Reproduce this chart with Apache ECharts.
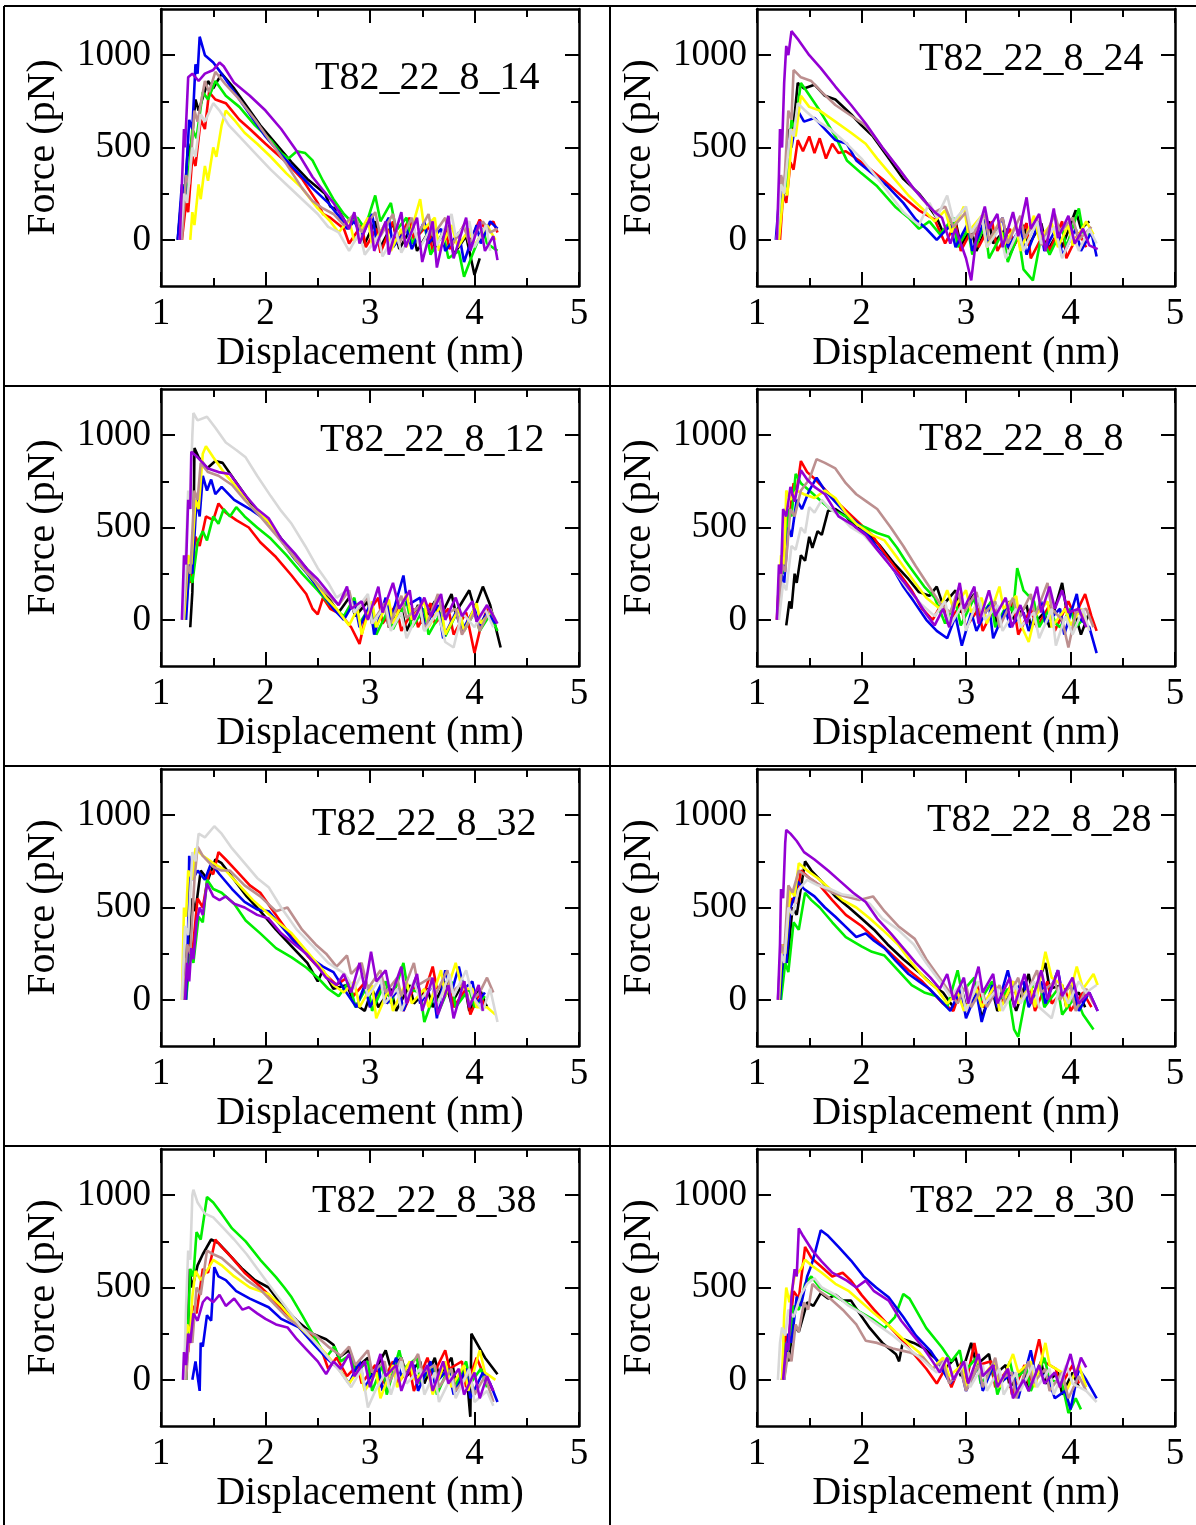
<!DOCTYPE html>
<html><head><meta charset="utf-8">
<script src="https://cdn.jsdelivr.net/npm/echarts@6/dist/echarts.min.js"></script>
<style>html,body{margin:0;padding:0;background:#fff}#c{width:1196px;height:1525px}</style>
</head><body><div id="c"></div>
<script>
// ---- categories / labels ----
const panelTitles = ['T82_22_8_14','T82_22_8_24','T82_22_8_12','T82_22_8_8','T82_22_8_32','T82_22_8_28','T82_22_8_38','T82_22_8_30'];
const seriesNames = ['black','red','green','blue','yellow','brown','grey','violet'];
const seriesColors = ['#000000','#ff0000','#00ee00','#0000ee','#ffff00','#bc8f8f','#d8d8d8','#9400d3'];
const xTickValues = [1,2,3,4,5];
const yTickValues = [0,500,1000];
const yMinorTickValues = [250,750];

// ---- data: flat [x,y,x,y,...] (displacement nm, force pN) ----
// T82_22_8_14
const p14_black=[1.16,0,1.20,250,1.22,180,1.26,520,1.28,450,1.33,760,1.36,700,1.45,860,1.50,820,1.58,900,1.70,820,1.80,740,1.95,620,2.10,520,2.25,420,2.40,330,2.57,250,2.62,180,2.70,160,2.80,60,2.85,120,2.95,-20,3.05,100,3.10,-40,3.22,90,3.28,-50,3.40,70,3.45,-60,3.58,60,3.62,-40,3.75,80,3.80,-80,3.92,20,4.00,-190,4.05,-100];
const p14_red=[1.20,0,1.24,200,1.26,150,1.30,450,1.33,400,1.38,650,1.42,600,1.46,800,1.52,760,1.62,740,1.75,650,1.85,600,2.0,520,2.08,480,2.2,420,2.35,330,2.5,200,2.55,140,2.62,120,2.75,60,2.80,-20,2.92,80,2.96,-40,3.06,60,3.10,-70,3.22,100,3.26,-20,3.38,120,3.42,0,3.55,80,3.60,-60,3.72,60,3.76,-50,3.90,80,3.95,-20,4.05,110,4.10,60,4.18,100,4.22,40];
const p14_green=[1.18,0,1.22,300,1.25,250,1.30,600,1.34,550,1.40,800,1.45,760,1.52,860,1.62,780,1.75,720,1.90,620,2.05,540,2.15,470,2.22,440,2.30,480,2.38,470,2.45,430,2.55,320,2.65,220,2.75,140,2.82,100,2.88,120,2.95,60,3.05,240,3.10,100,3.20,200,3.25,50,3.35,120,3.40,-20,3.52,80,3.58,-80,3.70,40,3.75,-100,3.85,-60,3.90,-200,3.98,-80,4.08,60,4.12,-20,4.22,-60];
const p14_blue=[1.16,0,1.20,300,1.23,240,1.27,650,1.30,600,1.33,950,1.35,900,1.37,1100,1.42,1000,1.50,960,1.58,900,1.70,800,1.85,680,2.0,560,2.15,460,2.30,370,2.45,280,2.60,200,2.70,130,2.78,60,2.85,100,2.92,20,3.02,140,3.06,0,3.18,120,3.22,-40,3.35,60,3.40,-50,3.52,100,3.56,-20,3.68,60,3.72,-60,3.85,40,3.90,-120,4.02,80,4.06,-20,4.15,100,4.22,60];
const p14_yellow=[1.28,0,1.30,150,1.32,80,1.36,300,1.38,220,1.42,400,1.45,320,1.50,500,1.53,450,1.58,620,1.62,700,1.70,650,1.80,580,1.92,520,2.05,450,2.20,360,2.35,280,2.50,170,2.62,100,2.70,40,2.80,110,2.85,-10,2.98,120,3.02,-30,3.15,90,3.20,-60,3.30,60,3.35,-40,3.48,220,3.52,60,3.62,120,3.66,-60,3.78,80,3.84,-40,3.95,60,4.00,-30,4.12,80,4.20,0];
const p14_brown=[1.20,0,1.24,350,1.27,300,1.32,700,1.35,640,1.42,860,1.46,800,1.52,910,1.62,840,1.75,760,1.90,650,2.05,530,2.20,410,2.35,280,2.45,210,2.55,170,2.65,140,2.75,80,2.85,140,2.92,40,3.05,150,3.10,20,3.22,140,3.28,-20,3.40,120,3.44,10,3.56,140,3.60,20,3.72,120,3.78,-30,3.90,80,3.95,-20,4.08,100,4.15,40,4.22,60];
const p14_grey=[1.18,0,1.22,250,1.25,200,1.30,500,1.33,450,1.38,680,1.42,640,1.50,740,1.56,700,1.65,620,1.75,560,1.90,470,2.05,380,2.20,300,2.35,220,2.50,140,2.60,70,2.70,40,2.80,-60,2.90,40,2.95,-80,3.08,20,3.12,-90,3.25,40,3.30,-70,3.42,60,3.48,-40,3.60,80,3.64,-30,3.78,140,3.82,20,3.95,100,4.00,-40,4.11,80,4.15,-60];
const p14_violet=[1.18,0,1.20,300,1.22,600,1.23,500,1.26,880,1.30,900,1.36,860,1.42,900,1.50,920,1.56,960,1.60,940,1.70,850,1.85,780,2.0,700,2.15,600,2.30,480,2.45,340,2.55,270,2.65,200,2.75,110,2.80,60,2.85,150,2.90,-20,3.00,120,3.04,-60,3.15,100,3.18,-80,3.30,150,3.34,-40,3.45,120,3.50,-120,3.60,100,3.64,-150,3.75,130,3.80,-100,3.92,120,3.96,-60,4.05,100,4.10,-60,4.18,20,4.22,-110];
// T82_22_8_24
const p24_black=[1.20,0,1.24,300,1.27,250,1.31,600,1.34,560,1.39,850,1.45,820,1.55,840,1.65,780,1.75,760,1.90,680,2.0,620,2.11,560,2.25,450,2.40,330,2.55,250,2.62,200,2.72,120,2.78,40,2.90,100,2.95,-30,3.05,60,3.10,-60,3.22,100,3.26,-20,3.38,60,3.42,-80,3.55,80,3.60,-30,3.72,90,3.78,-60,3.88,40,3.92,-40,4.05,160,4.10,60,4.18,100];
const p24_red=[1.22,0,1.25,250,1.28,200,1.32,420,1.35,380,1.39,540,1.44,480,1.50,560,1.55,470,1.60,550,1.66,440,1.72,520,1.78,470,1.85,480,2.0,420,2.2,330,2.4,230,2.55,160,2.70,110,2.80,-20,2.90,90,2.95,-60,3.08,80,3.12,-40,3.25,100,3.30,-60,3.42,60,3.46,-30,3.58,90,3.62,-100,3.75,40,3.80,-60,3.92,100,3.96,-100,4.08,40,4.15,-40];
const p24_green=[1.20,0,1.25,320,1.28,260,1.33,650,1.36,600,1.42,850,1.48,800,1.60,700,1.75,560,1.86,430,2.0,360,2.15,290,2.33,175,2.45,120,2.55,60,2.65,100,2.75,30,2.88,120,2.92,-40,3.02,60,3.06,-80,3.18,80,3.22,-100,3.35,40,3.40,-120,3.50,30,3.55,-160,3.64,-220,3.72,20,3.80,-80,3.92,60,3.96,-40,4.08,170,4.12,40,4.22,20];
const p24_blue=[1.18,0,1.22,280,1.25,220,1.30,550,1.33,500,1.39,700,1.45,640,1.55,660,1.65,600,1.75,540,1.86,520,1.95,430,2.10,360,2.25,290,2.40,200,2.52,110,2.62,60,2.72,0,2.85,80,2.90,-40,3.02,90,3.06,-60,3.18,110,3.22,-20,3.35,120,3.40,-40,3.52,60,3.58,-80,3.70,100,3.75,-60,3.88,80,3.92,-90,4.05,60,4.10,-60,4.20,40,4.25,-90];
const p24_yellow=[1.21,0,1.26,300,1.29,240,1.34,600,1.37,560,1.42,780,1.50,720,1.60,700,1.75,640,1.90,580,2.04,520,2.15,440,2.30,340,2.45,240,2.58,170,2.70,100,2.80,160,2.86,40,2.98,180,3.02,40,3.15,130,3.20,-40,3.32,100,3.36,-30,3.48,80,3.52,-60,3.65,130,3.70,0,3.82,90,3.88,-40,3.98,80,4.02,-30,4.15,100,4.22,30];
const p24_brown=[1.19,0,1.23,350,1.26,290,1.30,700,1.33,650,1.35,920,1.42,880,1.52,860,1.62,800,1.75,730,1.88,680,2.04,620,2.20,500,2.35,390,2.48,290,2.60,210,2.70,150,2.80,180,2.88,70,3.00,150,3.05,10,3.18,140,3.22,0,3.35,120,3.40,-20,3.52,130,3.56,10,3.68,110,3.72,-30,3.85,140,3.90,40,4.02,120,4.08,0,4.20,70];
const p24_grey=[1.19,0,1.23,300,1.26,250,1.32,600,1.35,560,1.39,740,1.46,700,1.56,650,1.70,600,1.86,520,2.0,440,2.20,300,2.40,150,2.55,80,2.65,200,2.72,120,2.82,240,2.88,100,3.00,180,3.05,40,3.15,130,3.20,-40,3.32,60,3.38,-100,3.50,50,3.55,-60,3.68,100,3.72,-20,3.85,70,3.92,-100,4.02,30,4.08,-60,4.18,60,4.25,-20];
const p24_violet=[1.19,0,1.21,350,1.22,600,1.24,500,1.26,850,1.28,1050,1.30,1000,1.33,1130,1.40,1080,1.50,1000,1.61,930,1.75,830,1.90,730,2.04,630,2.20,500,2.35,390,2.51,270,2.62,200,2.70,150,2.77,120,2.85,-20,2.90,60,3.00,-100,3.05,-220,3.10,20,3.18,180,3.22,60,3.30,140,3.35,-40,3.45,150,3.50,20,3.58,230,3.62,60,3.70,140,3.76,-60,3.84,170,3.88,10,3.98,130,4.04,-20,4.12,60,4.18,-30,4.26,-50];
// T82_22_8_12
const p12_black=[1.28,-40,1.30,150,1.31,400,1.32,930,1.36,880,1.44,820,1.52,860,1.59,850,1.70,760,1.80,680,1.92,580,2.03,530,2.15,440,2.28,350,2.39,280,2.50,180,2.60,120,2.70,40,2.80,120,2.86,20,2.98,100,3.02,-20,3.14,80,3.18,-40,3.30,60,3.35,-60,3.46,80,3.50,-20,3.62,100,3.66,0,3.78,140,3.82,40,3.95,160,4.00,60,4.08,180,4.15,80,4.25,-150];
const p12_red=[1.22,0,1.25,250,1.28,200,1.33,450,1.37,400,1.43,560,1.50,540,1.55,630,1.62,580,1.72,540,1.84,500,1.95,420,2.10,340,2.25,240,2.39,140,2.45,60,2.50,30,2.55,120,2.62,60,2.72,30,2.82,-40,2.90,-130,2.96,20,3.08,120,3.12,-20,3.25,80,3.30,-60,3.42,60,3.46,-40,3.58,90,3.62,-20,3.75,60,3.80,-80,3.92,40,4.00,-180,4.05,-60,4.12,60,4.18,-20];
const p12_green=[1.23,0,1.27,250,1.30,200,1.35,420,1.40,480,1.44,430,1.50,560,1.55,520,1.60,600,1.66,560,1.72,610,1.80,560,1.92,500,2.05,440,2.20,350,2.35,250,2.50,160,2.62,80,2.75,20,2.85,120,2.90,-20,3.02,90,3.06,-80,3.18,60,3.22,-50,3.35,100,3.40,-40,3.52,60,3.56,-80,3.68,40,3.72,-90,3.85,60,3.90,-60,4.00,40,4.05,-60,4.15,30,4.22,-60];
const p12_blue=[1.24,0,1.27,300,1.30,250,1.34,650,1.37,560,1.40,780,1.44,700,1.48,760,1.52,680,1.58,720,1.70,650,1.85,600,2.03,530,2.15,430,2.28,330,2.40,250,2.52,160,2.65,60,2.75,0,2.85,100,2.90,-40,3.00,80,3.04,-80,3.15,120,3.20,0,3.32,240,3.36,80,3.48,120,3.52,-40,3.65,80,3.70,-100,3.82,40,3.88,-60,4.00,60,4.05,-30,4.12,40,4.20,-20];
const p12_yellow=[1.22,0,1.26,350,1.29,300,1.33,650,1.36,600,1.40,900,1.43,940,1.50,880,1.60,800,1.72,720,1.85,620,2.03,530,2.15,430,2.30,320,2.47,210,2.58,120,2.68,60,2.80,-30,2.88,60,2.92,-80,3.02,100,3.06,-40,3.18,110,3.22,-20,3.35,140,3.40,0,3.52,100,3.56,-40,3.68,80,3.72,-80,3.85,60,3.90,-60,4.02,90,4.06,-20,4.15,40];
const p12_brown=[1.21,0,1.25,300,1.28,250,1.32,700,1.35,650,1.38,850,1.45,800,1.55,780,1.68,730,1.80,650,1.95,560,2.10,460,2.25,360,2.40,260,2.55,160,2.70,80,2.80,160,2.85,40,2.98,120,3.02,-20,3.14,90,3.18,-40,3.30,130,3.35,10,3.48,80,3.52,-60,3.65,140,3.70,20,3.82,60,3.88,-80,4.00,40,4.05,-60,4.15,60,4.20,0];
const p12_grey=[1.21,0,1.24,400,1.26,700,1.28,650,1.30,1000,1.31,1120,1.35,1080,1.44,1100,1.52,1040,1.62,960,1.72,920,1.81,880,1.92,780,2.05,670,2.15,590,2.25,520,2.38,400,2.50,280,2.60,200,2.68,120,2.78,160,2.85,40,2.98,140,3.02,-20,3.15,80,3.20,-60,3.30,40,3.35,-100,3.48,60,3.52,-60,3.65,40,3.72,-120,3.80,-150,3.88,40,4.00,-40,4.10,60,4.18,-40];
const p12_violet=[1.20,0,1.22,350,1.24,300,1.26,650,1.28,600,1.29,910,1.35,880,1.45,820,1.55,800,1.66,790,1.80,680,1.92,600,2.03,550,2.15,440,2.28,360,2.39,280,2.50,220,2.60,150,2.70,80,2.78,180,2.82,60,2.92,100,2.98,0,3.08,180,3.12,40,3.22,200,3.28,60,3.38,160,3.42,0,3.52,120,3.58,20,3.68,140,3.72,0,3.82,120,3.88,20,3.98,100,4.02,-10,4.12,80,4.18,20,4.22,-20];
// T82_22_8_8
const p8_black=[1.28,-30,1.31,100,1.33,60,1.36,250,1.38,200,1.42,350,1.46,320,1.50,450,1.53,390,1.58,480,1.62,460,1.68,590,1.75,600,1.85,560,1.95,500,2.04,480,2.18,400,2.32,300,2.45,220,2.55,150,2.65,130,2.72,180,2.78,80,2.90,160,2.95,40,3.08,140,3.12,20,3.25,90,3.30,-30,3.42,100,3.46,0,3.58,80,3.62,-40,3.75,40,3.80,-40,3.92,200,3.96,60,4.05,20,4.10,-80,4.18,40];
const p8_red=[1.19,0,1.22,300,1.25,250,1.28,600,1.31,550,1.35,740,1.38,700,1.42,860,1.48,800,1.56,760,1.66,700,1.80,620,1.95,540,2.10,460,2.22,360,2.35,260,2.48,160,2.58,60,2.68,0,2.78,100,2.82,-20,2.95,80,3.00,-40,3.12,60,3.16,-60,3.28,80,3.32,-20,3.45,100,3.50,-80,3.62,60,3.68,-40,3.80,80,3.85,-60,3.98,100,4.04,20,4.14,140,4.20,20,4.25,-60];
const p8_green=[1.20,0,1.23,300,1.26,250,1.30,600,1.33,560,1.37,790,1.42,740,1.50,700,1.58,660,1.70,600,1.85,560,1.95,520,2.04,500,2.15,470,2.26,450,2.34,390,2.42,320,2.51,250,2.60,180,2.70,120,2.80,-20,2.90,100,2.95,-30,3.08,120,3.12,0,3.24,100,3.28,-40,3.40,90,3.45,40,3.49,280,3.55,160,3.65,100,3.70,-40,3.80,60,3.86,-20,3.90,-40,4.00,60,4.05,-40,4.15,20];
const p8_blue=[1.20,0,1.23,250,1.26,200,1.30,500,1.33,450,1.38,650,1.43,600,1.50,700,1.57,770,1.65,700,1.78,620,1.90,550,1.97,520,2.10,430,2.22,340,2.32,260,2.40,180,2.50,100,2.62,0,2.72,-60,2.82,-100,2.90,20,2.96,-140,3.05,40,3.10,-60,3.22,80,3.26,-100,3.38,60,3.42,-40,3.55,40,3.60,-60,3.72,100,3.76,-20,3.90,60,3.94,-80,4.06,140,4.10,0,4.18,-40,4.25,-180];
const p8_yellow=[1.20,0,1.23,350,1.26,300,1.28,700,1.32,650,1.38,700,1.45,680,1.55,660,1.65,700,1.75,660,1.85,580,1.95,520,2.10,460,2.22,430,2.35,330,2.50,210,2.62,120,2.75,60,2.82,160,2.88,60,3.00,160,3.05,40,3.15,120,3.20,-20,3.32,180,3.36,60,3.48,130,3.52,-20,3.60,-120,3.66,20,3.78,100,3.82,-40,3.95,60,4.00,-30,4.10,60,4.16,-40];
const p8_brown=[1.20,0,1.24,300,1.27,260,1.32,600,1.36,560,1.42,700,1.50,760,1.57,870,1.65,850,1.75,820,1.85,740,1.95,680,2.05,640,2.15,600,2.28,500,2.40,400,2.52,290,2.66,170,2.75,90,2.85,40,2.92,160,2.98,40,3.10,150,3.15,20,3.28,100,3.32,-40,3.45,120,3.50,0,3.62,140,3.66,20,3.78,200,3.82,60,3.92,0,3.98,-150,4.05,40,4.15,60,4.22,-40];
const p8_grey=[1.21,0,1.25,200,1.28,160,1.33,400,1.37,380,1.42,500,1.46,470,1.50,610,1.55,580,1.62,650,1.70,600,1.80,560,1.90,500,2.02,460,2.15,380,2.30,280,2.45,160,2.58,80,2.70,20,2.80,100,2.85,-30,2.96,80,3.00,-60,3.12,120,3.18,0,3.30,80,3.35,-60,3.48,60,3.52,-40,3.65,40,3.70,-100,3.82,60,3.86,-140,3.95,20,4.02,-80,4.12,60,4.18,-60];
const p8_violet=[1.19,0,1.21,300,1.23,250,1.25,600,1.28,560,1.32,720,1.36,640,1.42,810,1.48,760,1.55,720,1.65,680,1.78,560,1.90,520,2.04,460,2.15,380,2.28,290,2.40,210,2.52,120,2.62,30,2.70,-30,2.78,60,2.84,-40,2.94,200,2.98,60,3.08,180,3.12,-20,3.22,160,3.28,20,3.38,120,3.44,-40,3.52,80,3.58,-20,3.68,180,3.72,40,3.80,180,3.85,60,3.92,160,3.98,40,4.08,60,4.15,-40];
// T82_22_8_32
const p32_black=[1.22,0,1.25,300,1.27,250,1.30,550,1.33,480,1.38,700,1.45,650,1.52,760,1.58,740,1.70,650,1.82,560,1.95,480,2.10,380,2.25,290,2.40,200,2.50,100,2.55,160,2.65,60,2.78,80,2.85,-20,2.95,-60,3.02,60,3.08,-40,3.20,60,3.25,-60,3.38,80,3.42,-20,3.55,60,3.60,-40,3.72,100,3.78,-20,3.90,100,3.95,-60,4.05,60,4.12,-40];
const p32_red=[1.23,0,1.27,300,1.30,250,1.35,550,1.40,500,1.46,700,1.50,680,1.55,800,1.62,760,1.72,700,1.85,620,1.95,580,2.10,460,2.25,340,2.40,240,2.55,150,2.68,80,2.78,120,2.84,20,2.96,100,3.00,-40,3.12,80,3.16,-20,3.28,60,3.32,-60,3.45,100,3.50,0,3.60,180,3.64,60,3.76,100,3.80,-40,3.92,60,3.96,-80,4.05,40,4.10,-40];
const p32_green=[1.24,0,1.28,250,1.31,200,1.36,450,1.40,420,1.44,650,1.50,600,1.58,580,1.70,520,1.81,430,1.95,360,2.10,280,2.25,230,2.39,175,2.50,120,2.60,60,2.70,20,2.80,100,2.86,-40,2.98,80,3.02,-60,3.15,100,3.20,-20,3.32,200,3.36,60,3.48,40,3.52,-120,3.62,40,3.66,-60,3.78,100,3.82,-40,3.95,60,4.00,-40,4.10,20];
const p32_blue=[1.24,0,1.26,400,1.27,780,1.30,650,1.35,700,1.42,650,1.48,740,1.56,680,1.68,600,1.80,530,1.92,490,2.03,480,2.15,400,2.30,300,2.45,220,2.55,180,2.65,150,2.75,60,2.87,-40,2.95,80,3.00,-40,3.12,100,3.16,-20,3.28,60,3.32,-60,3.44,120,3.48,-20,3.60,80,3.64,-100,3.72,160,3.78,40,3.85,180,3.90,60,3.98,100,4.02,-20,4.10,40];
const p32_yellow=[1.20,0,1.21,250,1.22,500,1.24,450,1.26,700,1.30,650,1.33,820,1.40,780,1.50,740,1.62,700,1.75,620,1.88,540,2.00,480,2.12,420,2.25,360,2.40,260,2.55,160,2.65,80,2.75,40,2.85,100,2.90,-40,3.02,80,3.06,-100,3.18,60,3.22,-60,3.35,100,3.40,-20,3.52,60,3.56,-40,3.68,160,3.72,20,3.82,200,3.88,60,3.98,60,4.02,-40,4.12,-40,4.20,-80];
const p32_brown=[1.22,0,1.25,300,1.28,250,1.32,650,1.35,830,1.40,780,1.50,720,1.58,700,1.66,700,1.80,620,1.95,560,2.10,480,2.21,500,2.35,380,2.48,300,2.58,250,2.68,180,2.78,240,2.82,140,2.92,200,2.98,60,3.10,160,3.15,40,3.26,120,3.30,20,3.42,200,3.46,80,3.58,120,3.62,20,3.74,160,3.78,40,3.90,100,3.95,-20,4.05,40,4.12,120,4.18,40];
const p32_grey=[1.20,0,1.23,400,1.26,350,1.30,800,1.33,750,1.36,900,1.42,880,1.51,940,1.58,900,1.68,820,1.80,740,1.92,660,2.03,610,2.15,500,2.30,380,2.47,280,2.60,200,2.76,140,2.85,60,2.92,140,2.98,20,3.10,120,3.14,-20,3.26,60,3.30,-60,3.42,100,3.48,0,3.60,80,3.64,-40,3.76,140,3.80,20,3.92,160,3.98,20,4.08,-60,4.15,60,4.22,-120];
const p32_violet=[1.23,0,1.25,200,1.27,100,1.29,280,1.31,220,1.34,420,1.37,500,1.40,460,1.44,630,1.50,560,1.56,540,1.62,560,1.70,520,1.80,500,1.92,460,2.03,440,2.15,360,2.28,300,2.39,250,2.50,180,2.58,120,2.68,80,2.75,140,2.82,40,2.90,200,2.95,60,3.01,260,3.06,100,3.15,160,3.20,20,3.30,180,3.35,-20,3.45,140,3.50,-60,3.60,120,3.65,-80,3.75,80,3.80,-100,3.90,100,3.95,-40,4.04,80,4.08,-60];
// T82_22_8_28
const p28_black=[1.22,0,1.26,250,1.29,200,1.34,500,1.38,460,1.46,750,1.52,700,1.62,640,1.75,560,1.88,500,2.0,440,2.12,380,2.25,300,2.40,220,2.55,150,2.68,80,2.78,40,2.88,-40,2.95,80,3.00,-40,3.10,60,3.15,-100,3.25,60,3.30,-60,3.42,40,3.48,-60,3.60,140,3.64,20,3.76,200,3.80,60,3.92,80,3.96,-40,4.08,40,4.14,-40];
const p28_red=[1.22,0,1.25,300,1.28,260,1.33,550,1.37,520,1.42,700,1.50,660,1.60,620,1.72,540,1.85,460,2.0,400,2.15,320,2.30,240,2.45,160,2.58,100,2.68,40,2.78,-20,2.88,-60,2.95,60,3.00,-60,3.12,80,3.16,-40,3.28,60,3.32,-40,3.45,100,3.50,-20,3.62,60,3.66,-60,3.78,100,3.82,-20,3.95,60,4.00,-60,4.12,40,4.20,-40];
const p28_green=[1.23,0,1.27,200,1.30,150,1.35,420,1.40,380,1.46,580,1.52,540,1.60,500,1.72,420,1.85,340,2.0,290,2.10,260,2.22,240,2.35,160,2.48,80,2.60,40,2.72,20,2.82,-40,2.92,160,2.96,40,3.08,120,3.12,-20,3.25,100,3.30,-20,3.40,60,3.46,-160,3.50,-200,3.58,40,3.70,100,3.75,-40,3.88,60,3.92,-80,4.05,20,4.12,-80,4.22,-160];
const p28_blue=[1.22,0,1.25,250,1.28,200,1.32,500,1.36,560,1.39,640,1.45,600,1.55,560,1.65,500,1.75,450,1.86,390,1.95,340,2.04,360,2.12,320,2.22,280,2.33,210,2.45,140,2.55,100,2.65,60,2.75,0,2.85,-60,2.95,60,3.00,-100,3.10,40,3.15,-120,3.25,80,3.30,-40,3.40,160,3.45,40,3.55,100,3.60,-40,3.72,100,3.76,-20,3.88,160,3.92,40,4.02,80,4.08,-60,4.18,40,4.26,-60];
const p28_yellow=[1.21,0,1.24,300,1.27,250,1.32,600,1.36,560,1.40,740,1.48,700,1.58,660,1.70,600,1.82,540,1.95,500,2.08,440,2.20,380,2.35,300,2.48,200,2.60,120,2.72,60,2.82,-20,2.92,40,2.98,-60,3.10,60,3.15,-40,3.28,80,3.32,-60,3.45,100,3.50,-20,3.62,80,3.66,-40,3.76,260,3.82,120,3.92,80,3.96,-40,4.06,180,4.12,60,4.22,140,4.26,80];
const p28_brown=[1.20,0,1.23,300,1.26,250,1.30,620,1.34,580,1.40,700,1.50,660,1.60,620,1.72,580,1.85,560,1.98,540,2.11,560,2.22,480,2.35,400,2.51,330,2.62,220,2.72,140,2.82,60,2.92,-20,3.00,80,3.05,-40,3.15,60,3.20,-40,3.32,80,3.38,-20,3.50,120,3.55,0,3.68,160,3.72,40,3.85,100,3.90,0,4.00,80,4.05,-60,4.15,60,4.22,-20];
const p28_grey=[1.20,0,1.23,250,1.26,200,1.30,500,1.34,460,1.40,600,1.48,650,1.58,620,1.70,600,1.82,570,1.95,560,2.08,520,2.20,440,2.35,380,2.50,300,2.62,200,2.75,100,2.85,20,2.95,80,3.00,-60,3.12,100,3.18,-20,3.30,60,3.35,-60,3.48,80,3.52,-20,3.65,100,3.70,-40,3.82,-100,3.90,80,3.98,-20,4.08,100,4.15,40,4.25,80];
const p28_violet=[1.20,0,1.22,300,1.23,600,1.25,550,1.27,850,1.28,920,1.32,900,1.38,860,1.45,800,1.55,760,1.68,700,1.80,640,1.92,580,2.04,530,2.15,440,2.28,360,2.40,280,2.52,200,2.66,120,2.75,60,2.82,140,2.88,0,2.98,120,3.02,-20,3.12,180,3.16,40,3.26,140,3.30,-20,3.42,120,3.46,-40,3.56,140,3.62,-20,3.72,160,3.78,0,3.88,160,3.92,20,4.02,120,4.08,-20,4.18,40,4.26,-60];
// T82_22_8_38
const p38_black=[1.24,0,1.26,300,1.27,600,1.30,500,1.35,620,1.40,680,1.48,760,1.55,740,1.65,680,1.78,600,1.90,540,2.03,500,2.15,410,2.30,320,2.45,250,2.58,220,2.65,190,2.70,120,2.80,160,2.86,60,2.98,120,3.02,20,3.15,160,3.20,60,3.30,120,3.35,20,3.48,100,3.52,-20,3.62,120,3.66,20,3.78,120,3.82,-20,3.92,60,3.96,-200,3.97,250,4.10,120,4.22,30];
const p38_red=[1.22,0,1.24,200,1.26,150,1.30,400,1.34,360,1.40,600,1.45,580,1.52,760,1.58,720,1.68,660,1.80,580,1.92,520,2.05,450,2.20,360,2.35,280,2.48,220,2.55,140,2.60,60,2.68,120,2.78,20,2.88,80,2.92,-20,3.05,80,3.10,-40,3.22,100,3.26,-20,3.38,60,3.42,-60,3.55,120,3.60,20,3.72,160,3.76,60,3.88,100,3.92,-40,4.02,120,4.08,40,4.18,-60];
const p38_green=[1.24,0,1.26,300,1.28,600,1.31,560,1.34,800,1.38,760,1.44,990,1.50,960,1.58,900,1.68,820,1.81,750,1.95,650,2.10,556,2.18,500,2.25,447,2.35,350,2.45,250,2.58,121,2.66,180,2.72,100,2.82,140,2.86,40,2.98,100,3.02,-60,3.12,80,3.16,-80,3.28,160,3.32,60,3.45,120,3.48,-20,3.60,80,3.64,-80,3.75,60,3.80,-60,3.92,100,3.96,-20,4.06,60,4.12,-40];
const p38_blue=[1.30,0,1.33,100,1.37,-60,1.38,200,1.40,180,1.44,350,1.48,320,1.51,610,1.55,560,1.62,540,1.72,480,1.85,440,2.03,393,2.15,330,2.32,284,2.45,200,2.58,120,2.70,60,2.80,-20,2.90,100,2.95,-40,3.08,80,3.12,-60,3.25,120,3.30,20,3.42,80,3.46,-60,3.58,100,3.62,-20,3.75,60,3.80,-80,3.92,60,3.96,-100,4.08,40,4.15,-20,4.22,-120];
const p38_yellow=[1.22,0,1.25,300,1.28,250,1.30,450,1.33,590,1.38,540,1.45,600,1.50,650,1.58,620,1.70,560,1.85,500,2.03,465,2.15,400,2.30,300,2.45,220,2.58,140,2.70,60,2.80,-20,2.90,60,2.95,-60,3.06,40,3.10,-100,3.22,80,3.26,-40,3.38,100,3.42,0,3.55,60,3.60,-80,3.72,100,3.78,-40,3.90,80,3.94,-60,4.05,160,4.10,40,4.20,0];
const p38_brown=[1.24,0,1.27,250,1.30,200,1.34,500,1.38,460,1.44,700,1.50,680,1.58,660,1.70,600,1.82,540,1.95,490,2.10,400,2.22,330,2.35,280,2.48,240,2.60,180,2.72,130,2.80,180,2.86,80,2.98,160,3.02,40,3.14,100,3.18,-20,3.30,120,3.34,20,3.46,140,3.50,40,3.62,80,3.66,-40,3.78,60,3.82,-60,3.95,40,4.00,-80,4.10,20,4.18,-120];
const p38_grey=[1.22,0,1.24,400,1.26,700,1.28,650,1.30,1000,1.31,1030,1.35,960,1.42,900,1.50,880,1.60,820,1.70,760,1.82,680,1.95,580,2.08,480,2.20,390,2.35,280,2.48,200,2.60,120,2.72,40,2.82,-40,2.92,60,2.98,-150,3.05,-60,3.15,40,3.20,-80,3.30,100,3.35,-20,3.48,60,3.52,-80,3.62,40,3.66,-120,3.78,20,3.82,-100,3.95,60,4.00,-120,4.12,-60,4.18,-140];
const p38_violet=[1.21,0,1.22,150,1.24,80,1.26,250,1.28,200,1.31,360,1.35,320,1.40,420,1.44,447,1.50,420,1.56,460,1.62,400,1.70,440,1.78,380,1.84,393,1.92,360,2.00,330,2.10,300,2.21,284,2.30,220,2.40,160,2.50,100,2.58,31,2.65,100,2.72,60,2.80,140,2.85,20,2.95,100,3.00,-40,3.10,140,3.15,20,3.25,80,3.30,-60,3.40,100,3.45,-20,3.55,80,3.60,-60,3.70,100,3.75,-20,3.85,60,3.90,-80,4.00,40,4.05,-100,4.12,20,4.18,-60];
// T82_22_8_30
const p30_black=[1.24,0,1.28,150,1.30,100,1.35,300,1.40,260,1.48,420,1.54,400,1.61,470,1.68,440,1.75,460,1.82,430,1.90,429,1.98,360,2.08,280,2.20,200,2.33,139,2.36,100,2.40,220,2.50,200,2.60,170,2.70,120,2.80,60,2.90,120,2.95,20,3.05,200,3.10,80,3.22,140,3.26,20,3.38,80,3.42,-40,3.55,60,3.60,-60,3.72,100,3.76,-20,3.88,40,3.92,-80,4.02,40,4.08,-40];
const p30_red=[1.24,0,1.27,250,1.30,200,1.35,480,1.40,440,1.46,720,1.52,660,1.60,620,1.72,560,1.82,580,1.90,537,2.0,460,2.12,380,2.25,300,2.38,220,2.50,140,2.62,60,2.72,-20,2.80,60,2.86,-40,2.96,100,3.00,-20,3.08,200,3.12,80,3.24,100,3.28,-40,3.40,60,3.44,-80,3.56,80,3.60,-20,3.70,220,3.74,100,3.86,60,3.90,-40,4.02,80,4.08,-20];
const p30_green=[1.24,0,1.27,200,1.30,160,1.35,400,1.40,380,1.46,520,1.52,560,1.60,500,1.72,460,1.85,420,1.98,370,2.10,330,2.22,280,2.32,340,2.40,465,2.46,440,2.52,380,2.62,280,2.77,175,2.86,100,2.94,160,2.98,40,3.10,120,3.14,-20,3.26,60,3.30,-80,3.42,100,3.46,0,3.58,60,3.62,-60,3.75,120,3.80,0,3.92,-20,3.98,-180,4.05,-100,4.10,-160];
const p30_blue=[1.26,0,1.30,250,1.33,200,1.38,450,1.42,400,1.48,560,1.52,620,1.56,700,1.61,810,1.68,780,1.78,720,1.90,646,2.02,560,2.14,500,2.26,447,2.40,340,2.52,240,2.66,157,2.75,80,2.85,-20,2.95,60,3.00,-60,3.12,80,3.16,-60,3.28,100,3.32,-20,3.45,40,3.50,-100,3.62,160,3.66,40,3.78,20,3.85,-100,3.95,-60,4.00,-160,4.08,60,4.15,0,4.25,-100];
const p30_yellow=[1.24,0,1.26,350,1.28,500,1.31,420,1.36,560,1.42,600,1.46,650,1.52,620,1.62,580,1.75,520,1.88,480,2.0,420,2.12,360,2.25,300,2.40,220,2.55,150,2.68,60,2.78,120,2.84,20,2.96,80,3.00,-40,3.12,120,3.16,20,3.28,100,3.32,-40,3.45,140,3.50,40,3.62,100,3.66,-40,3.76,200,3.80,80,3.92,40,3.96,-60,4.08,80,4.15,-40];
const p30_brown=[1.26,0,1.30,150,1.33,100,1.37,300,1.40,260,1.45,420,1.49,380,1.53,519,1.60,480,1.70,440,1.82,380,1.95,300,2.04,212,2.15,200,2.30,170,2.45,150,2.59,121,2.68,60,2.78,100,2.84,-20,2.95,60,3.00,-60,3.12,80,3.16,-40,3.28,120,3.32,0,3.44,40,3.48,-100,3.60,100,3.64,-20,3.76,60,3.80,-60,3.92,40,3.98,-100,4.08,20,4.15,-60];
const p30_grey=[1.20,0,1.22,200,1.24,284,1.27,240,1.30,380,1.35,340,1.42,460,1.48,520,1.55,550,1.62,500,1.75,460,1.88,400,2.0,360,2.15,300,2.30,240,2.45,170,2.60,100,2.72,40,2.82,120,2.88,0,3.00,100,3.04,-40,3.16,80,3.20,-60,3.32,60,3.36,-80,3.48,40,3.52,-60,3.64,80,3.68,-40,3.80,60,3.84,-80,3.96,80,4.02,-20,4.15,-60,4.25,-120];
const p30_violet=[1.25,0,1.28,200,1.30,160,1.33,450,1.36,600,1.38,560,1.40,820,1.44,780,1.53,700,1.62,640,1.72,580,1.86,537,1.95,500,2.04,537,2.12,480,2.26,429,2.38,320,2.48,250,2.59,175,2.68,100,2.75,40,2.82,120,2.88,0,2.98,100,3.02,-20,3.12,140,3.16,20,3.26,80,3.30,-40,3.40,60,3.45,-100,3.55,0,3.60,-60,3.70,80,3.75,-20,3.85,40,3.90,-40,4.00,140,4.05,20,4.10,120,4.15,67];

const panelData = [
  [p14_black,p14_red,p14_green,p14_blue,p14_yellow,p14_brown,p14_grey,p14_violet],
  [p24_black,p24_red,p24_green,p24_blue,p24_yellow,p24_brown,p24_grey,p24_violet],
  [p12_black,p12_red,p12_green,p12_blue,p12_yellow,p12_brown,p12_grey,p12_violet],
  [p8_black,p8_red,p8_green,p8_blue,p8_yellow,p8_brown,p8_grey,p8_violet],
  [p32_black,p32_red,p32_green,p32_blue,p32_yellow,p32_brown,p32_grey,p32_violet],
  [p28_black,p28_red,p28_green,p28_blue,p28_yellow,p28_brown,p28_grey,p28_violet],
  [p38_black,p38_red,p38_green,p38_blue,p38_yellow,p38_brown,p38_grey,p38_violet],
  [p30_black,p30_red,p30_green,p30_blue,p30_yellow,p30_brown,p30_grey,p30_violet]
];

// ---- layout ----
const FONT = '"Liberation Serif","Times New Roman",serif';
const colLeft = [161, 757];
const plotW = 418, plotH = 277;
const rowTop = [9, 389, 769, 1149];
const titlePos = [[315,80],[919,61],[320,442],[919,441],[312,826],[927,822],[312,1203],[910,1203]];

function toPairs(a){const r=[];for(let i=0;i<a.length;i+=2)r.push([a[i],a[i+1]]);return r;}

const grids=[],xAxes=[],yAxes=[],series=[],graphics=[];
const axisLineStyle={color:'#000',width:2.5};
const tickStyle={color:'#000',width:2};
for(let p=0;p<8;p++){
  const col=p%2,row=Math.floor(p/2);
  grids.push({left:colLeft[col],top:rowTop[row],width:plotW,height:plotH,containLabel:false});
  const xBase={type:'value',gridIndex:p,min:1,max:5,interval:1,splitLine:{show:false},
    axisLine:{show:true,onZero:false,lineStyle:axisLineStyle},
    axisTick:{show:true,inside:true,length:14,lineStyle:tickStyle},
    minorTick:{show:true,splitNumber:2,length:8,lineStyle:tickStyle}};
  xAxes.push(Object.assign({},xBase,{position:'bottom',
    axisLabel:{show:true,fontSize:37,color:'#000',fontFamily:FONT,margin:10,
      formatter:v=>xTickValues.indexOf(v)>=0?String(v):''},
    name:'Displacement (nm)',nameLocation:'middle',nameGap:47,
    nameTextStyle:{fontSize:40,color:'#000',fontFamily:FONT}}));
  xAxes.push(Object.assign({},xBase,{position:'top',axisLabel:{show:false}}));
  const yBase={type:'value',gridIndex:p,min:-250,max:1250,splitLine:{show:false}};
  yAxes.push(Object.assign({},yBase,{position:'left',
    axisLine:{show:true,onZero:false,lineStyle:axisLineStyle},
    axisTick:{show:true,inside:true,length:14,lineStyle:tickStyle,customValues:yTickValues},
    axisLabel:{show:true,fontSize:37,color:'#000',fontFamily:FONT,margin:10,customValues:yTickValues,
      formatter:v=>String(v)},
    name:'Force (pN)',nameLocation:'middle',nameGap:98,nameRotate:90,
    nameTextStyle:{fontSize:40,color:'#000',fontFamily:FONT}}));
  yAxes.push(Object.assign({},yBase,{position:'left',axisLine:{show:false},
    axisTick:{show:true,inside:true,length:8,lineStyle:tickStyle,customValues:yMinorTickValues},
    axisLabel:{show:false}}));
  yAxes.push(Object.assign({},yBase,{position:'right',
    axisLine:{show:true,onZero:false,lineStyle:axisLineStyle},
    axisTick:{show:true,inside:true,length:14,lineStyle:tickStyle,customValues:yTickValues},
    axisLabel:{show:false}}));
  yAxes.push(Object.assign({},yBase,{position:'right',axisLine:{show:false},
    axisTick:{show:true,inside:true,length:8,lineStyle:tickStyle,customValues:yMinorTickValues},
    axisLabel:{show:false}}));
  panelData[p].forEach((arr,k)=>{
    series.push({type:'line',name:seriesNames[k],xAxisIndex:2*p,yAxisIndex:4*p,
      data:toPairs(arr),showSymbol:false,symbol:'none',clip:true,
      lineStyle:{color:seriesColors[k],width:2.6},itemStyle:{color:seriesColors[k]},z:2+k});
  });
  graphics.push({type:'text',left:titlePos[p][0],top:titlePos[p][1]-22,
    style:{text:panelTitles[p],font:'40px '+FONT,fill:'#000'}});
}
// table borders
const L=(x1,y1,x2,y2)=>({type:'line',shape:{x1,y1,x2,y2},style:{stroke:'#000',lineWidth:2},silent:true,z:100});
graphics.push(L(4,6,1196,6),L(4,6,4,1525),L(610,6,610,1525),
  L(4,386,1196,386),L(4,766,1196,766),L(4,1146,1196,1146));

const chart=echarts.init(document.getElementById('c'),null,{renderer:'canvas'});
chart.setOption({animation:false,backgroundColor:'#fff',grid:grids,xAxis:xAxes,yAxis:yAxes,series:series,graphic:graphics});
</script></body></html>
